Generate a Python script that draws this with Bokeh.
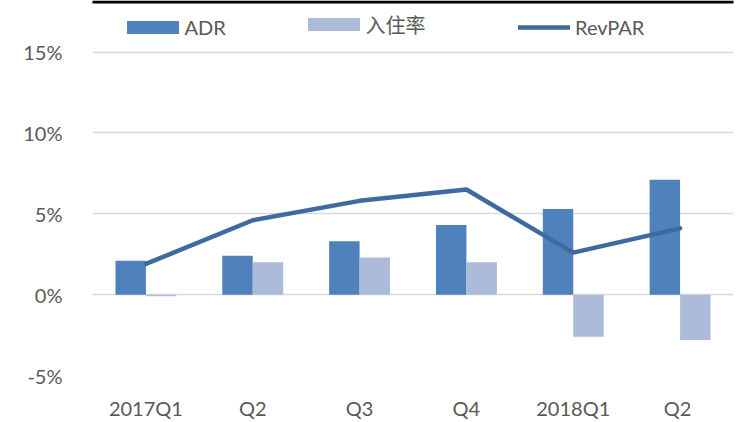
from bokeh.plotting import figure
from bokeh.models import (ColumnDataSource, FactorRange, Range1d, Legend, LegendItem,
                          FixedTicker, CustomJSTickFormatter, BoxAnnotation)
from bokeh.transform import dodge
from bokeh.embed import file_html
from bokeh.resources import INLINE

categories = ["2017Q1", "Q2", "Q3", "Q4", "2018Q1", "Q2 "]
adr = [2.1, 2.4, 3.3, 4.3, 5.3, 7.1]
occupancy = [-0.1, 2.0, 2.3, 2.0, -2.6, -2.8]
revpar = [1.9, 4.6, 5.8, 6.5, 2.6, 4.1]
y_ticks = [-5, 0, 5, 10, 15]

src = ColumnDataSource(dict(cat=categories, adr=adr, occ=occupancy, rev=revpar))

FONT = "Lato, 'Noto Sans CJK SC'"
TXT = "#595959"
PX_PER_PCT = 16.3
Y_END = 15 + 52 / PX_PER_PCT

p = figure(width=745, height=422, output_backend="svg", toolbar_location=None,
           x_range=FactorRange(factors=categories, range_padding=0),
           y_range=Range1d(-5, Y_END))
p.min_border_left = 92
p.min_border_right = 12
p.min_border_top = 0
p.min_border_bottom = 44
p.outline_line_color = None
p.background_fill_color = "white"

bw = 0.285
r_adr = p.vbar(x=dodge("cat", -bw / 2, range=p.x_range), top="adr", bottom=0, width=bw,
               source=src, fill_color="#4f81bd", line_color=None)
r_occ = p.vbar(x=dodge("cat", bw / 2, range=p.x_range), top="occ", bottom=0, width=bw,
               source=src, fill_color="#abbbd9", line_color=None)
r_rev = p.line(x="cat", y="rev", source=src, line_color="#3e6a9f", line_width=4.5,
               line_cap="round", line_join="round")

p.xgrid.grid_line_color = None
p.ygrid.grid_line_color = "#d9d9d9"
p.ygrid.grid_line_width = 1.3
p.ygrid.ticker = FixedTicker(ticks=y_ticks)

p.yaxis.ticker = FixedTicker(ticks=y_ticks)
p.yaxis.formatter = CustomJSTickFormatter(code="return tick + '%';")
for ax in (p.xaxis[0], p.yaxis[0]):
    ax.axis_line_color = None
    ax.major_tick_line_color = None
    ax.minor_tick_line_color = None
    ax.major_label_text_font = FONT
    ax.major_label_text_font_size = "20px"
    ax.major_label_text_color = TXT
p.yaxis.major_label_standoff = 24
p.xaxis.major_label_standoff = 14

legend_kw = dict(orientation="horizontal", padding=0, margin=0, border_line_color=None,
                 background_fill_alpha=0, label_text_font=FONT, label_text_font_size="20px",
                 label_text_color=TXT)
LEG_Y = 336.5
# bar swatches are drawn inset by 10% of the glyph box, so the box is 65 x 16 for a 52 x 13 swatch
for label, rend, xpos in (("ADR", r_adr, 27.5), ("入住率", r_occ, 208.5)):
    lg = Legend(items=[LegendItem(label=label, renderers=[rend])], location=(xpos, LEG_Y),
                glyph_width=65, glyph_height=16, label_standoff=0, **legend_kw)
    p.add_layout(lg, "center")
lg = Legend(items=[LegendItem(label="RevPAR", renderers=[r_rev])], location=(426, LEG_Y),
            glyph_width=52, glyph_height=16, label_standoff=5, **legend_kw)
p.add_layout(lg, "center")

# thin black rule along the very top of the picture (frame part)
cat_px = (745 - 92 - 12) / len(categories)
top_rule = BoxAnnotation(left=-92 / cat_px, right=len(categories) + 12 / cat_px,
                         bottom=Y_END - 3 / PX_PER_PCT, top=Y_END,
                         fill_color="#000000", fill_alpha=1.0, line_color=None, level="overlay")
p.add_layout(top_rule)

# full-width part of the rule: an empty legend box with a black background (not clipped to the frame)
ghost = p.line(x=[], y=[], line_alpha=0)
rule_legend = Legend(items=[LegendItem(label=" ", renderers=[ghost])], location=(-92, 375),
                     glyph_width=745, glyph_height=3, label_standoff=0, label_height=1,
                     label_text_font_size="1px", padding=0, margin=0, spacing=0,
                     border_line_color=None, background_fill_color="#000000",
                     background_fill_alpha=1.0)
p.add_layout(rule_legend, "center")

open("out.html", "w").write(file_html(p, INLINE))
